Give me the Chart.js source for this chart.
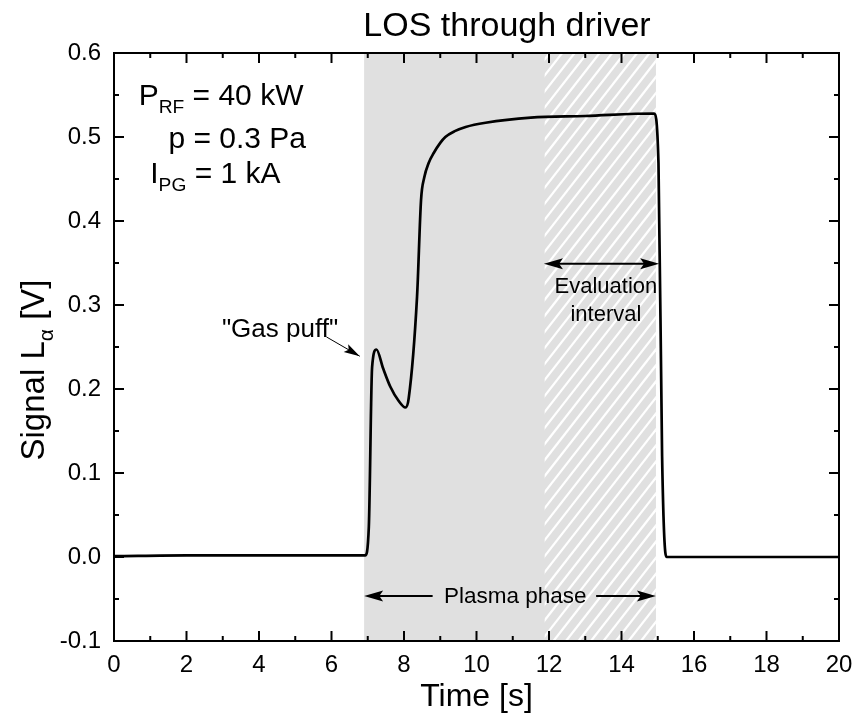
<!DOCTYPE html>
<html><head><meta charset="utf-8">
<script src="https://cdn.jsdelivr.net/npm/chart.js@4.4.0/dist/chart.umd.min.js"></script>
<style>html,body{margin:0;padding:0;background:#fff}canvas{display:block}</style>
</head><body>
<canvas id="c" width="859" height="725"></canvas>
<script>
// ---------- data ----------
const timeS   = [0, 2, 4, 6, 6.93, 7.03, 7.12, 7.24, 7.42, 7.62, 7.85, 8.04, 8.13, 8.36, 8.47, 8.56, 8.68, 8.82, 9.0, 9.14, 9.4, 9.7, 10.25, 11.5, 13, 14.9, 15.02, 15.12, 15.21, 15.25, 17, 20];
const signalV = [0.001, 0.002, 0.002, 0.002, 0.002, 0.036, 0.226, 0.247, 0.225, 0.203, 0.186, 0.178, 0.189, 0.310, 0.425, 0.452, 0.469, 0.481, 0.493, 0.500, 0.507, 0.512, 0.517, 0.523, 0.525, 0.528, 0.469, 0.12, 0.005, 0.0, 0.0, 0.0];
const xTickValues  = [0, 2, 4, 6, 8, 10, 12, 14, 16, 18, 20];
const xMinorValues = [1, 3, 5, 7, 9, 11, 13, 15, 17, 19];
const yTickValues  = [-0.1, 0.0, 0.1, 0.2, 0.3, 0.4, 0.5, 0.6];
const yMinorValues = [-0.05, 0.05, 0.15, 0.25, 0.35, 0.45, 0.55];
const plasmaPhase        = [6.9, 14.95];   // grey band (s)
const evaluationInterval = [11.88, 14.95]; // hatched band (s)
const chartTitle = 'LOS through driver';
const xTitle = 'Time [s]';
const yTitleParts = [['Signal L', false], ['α', true], [' [V]', false]];
const paramLines = [
  {t: 0.68, v: 0.538, parts: [['P', false], ['RF', true], [' = 40 kW', false]]},
  {t: 1.50, v: 0.4865, parts: [['p = 0.3 Pa', false]]},
  {t: 1.00, v: 0.445, parts: [['I', false], ['PG', true], [' = 1 kA', false]]}
];
const gasPuffLabel = '"Gas puff"';
const evalLabel = ['Evaluation', 'interval'];
const plasmaLabel = 'Plasma phase';

const FAM = '"Liberation Sans", Arial, Helvetica, sans-serif';
Chart.defaults.font.family = FAM;
Chart.defaults.color = '#000';

function arrowHead(ctx, xt, yt, ang, len, hw) {
  ctx.save();
  ctx.translate(xt, yt); ctx.rotate(ang);
  ctx.beginPath(); ctx.moveTo(0, 0); ctx.lineTo(-len, -hw); ctx.lineTo(-len * 0.8, 0); ctx.lineTo(-len, hw); ctx.closePath();
  ctx.fill();
  ctx.restore();
}
function richWidth(ctx, parts, size) {
  let w = 0;
  for (const [t, sub] of parts) { ctx.font = `${sub ? size * 0.64 : size}px ${FAM}`; w += ctx.measureText(t).width; }
  return w;
}
function drawRich(ctx, parts, x, y, size) {
  let cx = x;
  for (const [t, sub] of parts) {
    ctx.font = `${sub ? size * 0.64 : size}px ${FAM}`;
    ctx.fillText(t, cx, y + (sub ? size * 0.26 : 0));
    cx += ctx.measureText(t).width;
  }
}

const decor = {
  id: 'decor',
  beforeDatasetsDraw(chart) {
    const {ctx, chartArea: a, scales: {x}} = chart;
    const x0 = x.getPixelForValue(plasmaPhase[0]), x1 = x.getPixelForValue(plasmaPhase[1]);
    const xh = x.getPixelForValue(evaluationInterval[0]);
    ctx.save();
    ctx.fillStyle = '#e0e0e0';
    ctx.fillRect(x0, a.top, x1 - x0, a.bottom - a.top);
    ctx.beginPath(); ctx.rect(xh, a.top, x1 - xh, a.bottom - a.top); ctx.clip();
    ctx.strokeStyle = '#ffffff'; ctx.lineWidth = 2.2;
    const h = a.bottom - a.top, k = 0.78;
    for (let s = xh - h * k - 20; s < x1 + 20; s += 12.5) {
      ctx.beginPath(); ctx.moveTo(s, a.bottom); ctx.lineTo(s + h * k, a.top); ctx.stroke();
    }
    ctx.restore();
  },
  afterDraw(chart) {
    const {ctx, chartArea: a, scales: {x, y}} = chart;
    ctx.save();
    ctx.strokeStyle = '#000'; ctx.fillStyle = '#000'; ctx.lineWidth = 2;
    ctx.strokeRect(a.left, a.top, a.right - a.left, a.bottom - a.top);
    const seg = (x1, y1, x2, y2) => { ctx.beginPath(); ctx.moveTo(x1, y1); ctx.lineTo(x2, y2); ctx.stroke(); };
    const MAJ = 10, MIN = 5;
    xTickValues.forEach(v => { const p = x.getPixelForValue(v); seg(p, a.bottom, p, a.bottom - MAJ); seg(p, a.top, p, a.top + MAJ); });
    xMinorValues.forEach(v => { const p = x.getPixelForValue(v); seg(p, a.bottom, p, a.bottom - MIN); seg(p, a.top, p, a.top + MIN); });
    yTickValues.forEach(v => { const p = y.getPixelForValue(v); seg(a.left, p, a.left + MAJ, p); seg(a.right, p, a.right - MAJ, p); });
    yMinorValues.forEach(v => { const p = y.getPixelForValue(v); seg(a.left, p, a.left + MIN, p); seg(a.right, p, a.right - MIN, p); });

    ctx.textBaseline = 'alphabetic';
    ctx.textAlign = 'center';
    ctx.font = `34px ${FAM}`;
    ctx.fillText(chartTitle, 507, 36);

    ctx.save();
    ctx.translate(44, 370); ctx.rotate(-Math.PI / 2);
    ctx.textAlign = 'left';
    const yw = richWidth(ctx, yTitleParts, 33);
    drawRich(ctx, yTitleParts, -yw / 2, 0, 33);
    ctx.restore();

    ctx.textAlign = 'left';
    paramLines.forEach(l => drawRich(ctx, l.parts, x.getPixelForValue(l.t), y.getPixelForValue(l.v), 30));

    ctx.font = `26px ${FAM}`;
    ctx.textAlign = 'center';
    ctx.fillText(gasPuffLabel, x.getPixelForValue(4.58), y.getPixelForValue(0.262));
    ctx.lineWidth = 1;
    const gx0 = x.getPixelForValue(5.86), gy0 = y.getPixelForValue(0.262);
    const gx1 = x.getPixelForValue(6.78), gy1 = y.getPixelForValue(0.239);
    seg(gx0, gy0, gx1, gy1);
    arrowHead(ctx, gx1, gy1, Math.atan2(gy1 - gy0, gx1 - gx0), 16, 4.5);

    ctx.lineWidth = 2;
    const ey = y.getPixelForValue(0.349);
    const ex0 = x.getPixelForValue(11.86), ex1 = x.getPixelForValue(15.04);
    seg(ex0 + 8, ey, ex1 - 8, ey);
    arrowHead(ctx, ex0, ey, Math.PI, 19, 5.5);
    arrowHead(ctx, ex1, ey, 0, 19, 5.5);
    ctx.font = `22px ${FAM}`;
    ctx.fillText(evalLabel[0], x.getPixelForValue(13.57), y.getPixelForValue(0.3145));
    ctx.fillText(evalLabel[1], x.getPixelForValue(13.57), y.getPixelForValue(0.2805));

    const py = y.getPixelForValue(-0.0465);
    const px0 = x.getPixelForValue(plasmaPhase[0]), px1 = x.getPixelForValue(plasmaPhase[1]);
    seg(px0 + 8, py, x.getPixelForValue(8.79), py);
    seg(x.getPixelForValue(13.3), py, px1 - 8, py);
    arrowHead(ctx, px0, py, Math.PI, 19, 5.5);
    arrowHead(ctx, px1, py, 0, 19, 5.5);
    ctx.font = `22.5px ${FAM}`;
    ctx.fillText(plasmaLabel, x.getPixelForValue(11.07), y.getPixelForValue(-0.0553));
    ctx.restore();
  }
};

new Chart(document.getElementById('c').getContext('2d'), {
  type: 'line',
  data: {
    datasets: [{
      data: timeS.map((t, i) => ({x: t, y: signalV[i]})),
      borderColor: '#000', borderWidth: 2.7, pointRadius: 0,
      cubicInterpolationMode: 'monotone', fill: false
    }]
  },
  options: {
    responsive: false, animation: false, devicePixelRatio: 1,
    layout: {padding: {top: 53, right: 20, left: 0, bottom: 0}},
    plugins: {legend: {display: false}, tooltip: {enabled: false}, title: {display: false}},
    scales: {
      x: {
        type: 'linear', min: 0, max: 20,
        afterBuildTicks: s => { s.ticks = xTickValues.map(v => ({value: v})); },
        afterFit: s => { s.height = 84; s.paddingLeft = 0; s.paddingRight = 0; },
        grid: {display: false, drawTicks: false}, border: {display: false},
        ticks: {font: {size: 24}, color: '#000', padding: 10, maxRotation: 0, autoSkip: false},
        title: {display: true, text: xTitle, font: {size: 32}, color: '#000', padding: {top: 0, bottom: 9}}
      },
      y: {
        type: 'linear', min: -0.1, max: 0.6,
        afterBuildTicks: s => { s.ticks = yTickValues.map(v => ({value: v})); },
        afterFit: s => { s.width = 114; s.paddingTop = 0; s.paddingBottom = 0; },
        grid: {display: false, drawTicks: false}, border: {display: false},
        ticks: {font: {size: 24}, color: '#000', padding: 13, autoSkip: false, callback: v => v.toFixed(1)}
      }
    }
  },
  plugins: [decor]
});
</script>
</body></html>
